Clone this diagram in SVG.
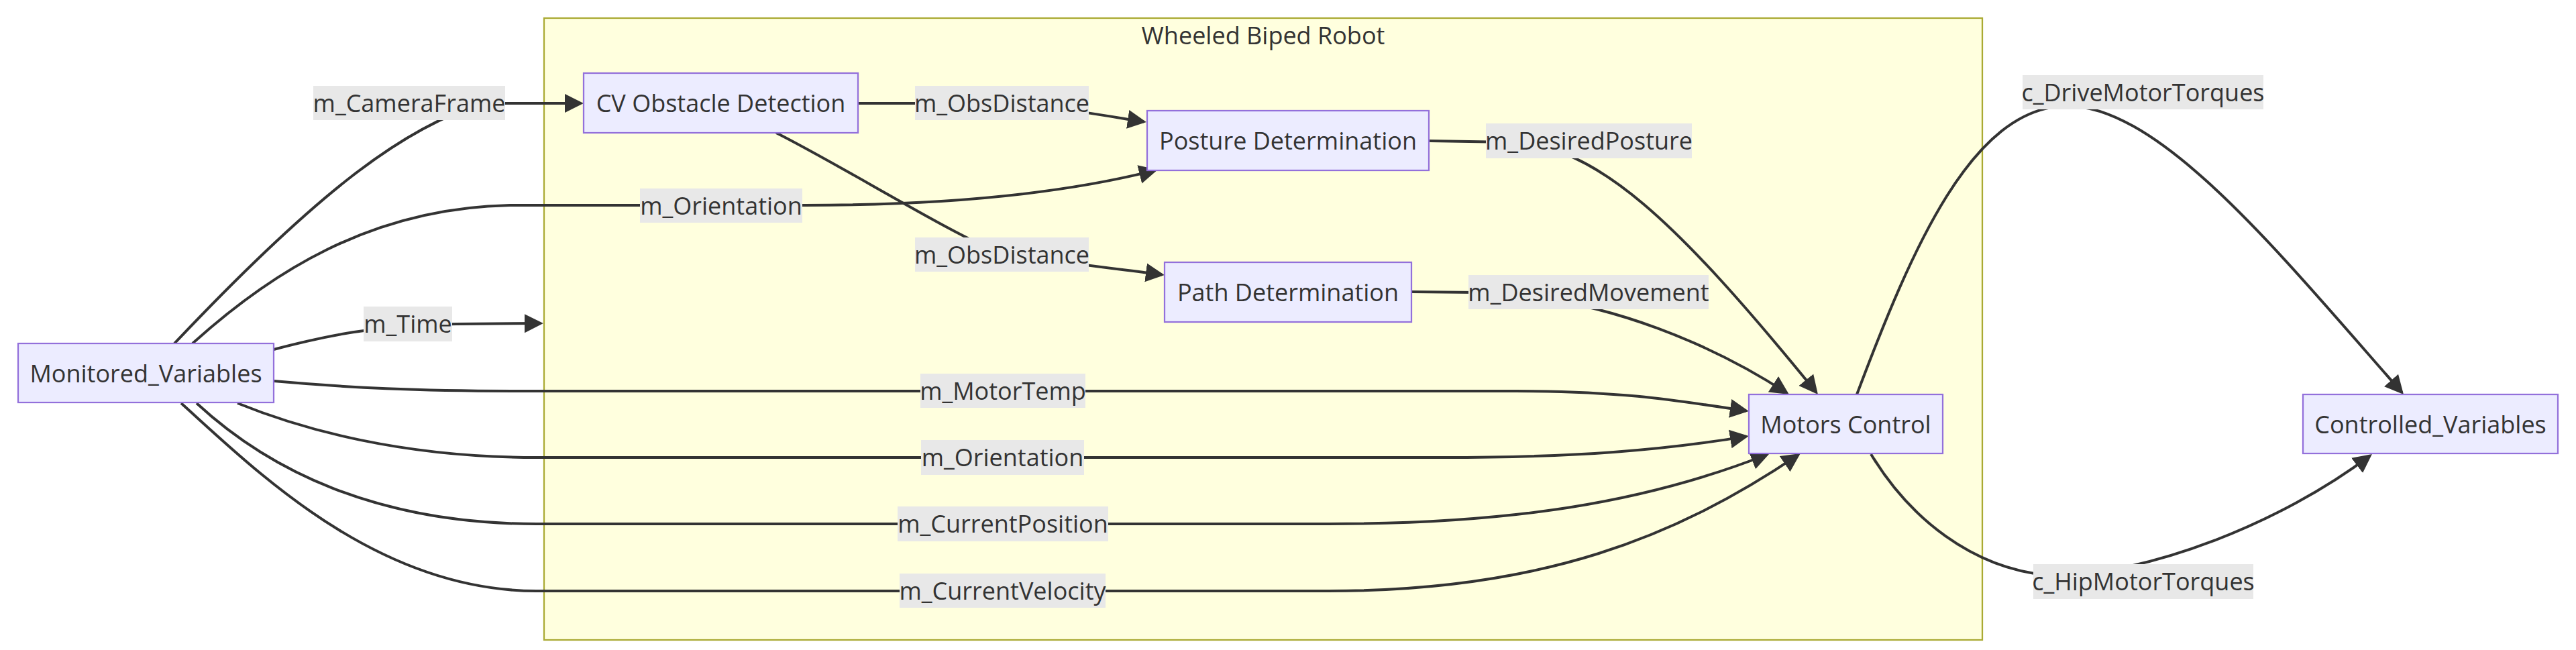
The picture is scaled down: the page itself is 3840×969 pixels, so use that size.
<svg xmlns="http://www.w3.org/2000/svg" width="3840" height="969" viewBox="0 0 3840 969">
<style>
text{font-family:"Open Sans","Noto Sans","Liberation Sans",sans-serif;font-size:36px;fill:#333333;text-anchor:middle}
.node rect{fill:#ECECFF;stroke:#9370DB;stroke-width:2.25}
.edge{fill:none;stroke:#333333;stroke-width:4;marker-end:url(#arrow)}
.lbl rect{fill:#e8e8e8}
.cluster{fill:#ffffde;stroke:#aaaa33;stroke-width:2.25}
</style>
<defs>
<marker id="arrow" viewBox="0 0 10 10" refX="8.6" refY="5" markerUnits="userSpaceOnUse" markerWidth="28" markerHeight="29" orient="auto">
<path d="M0,0 L10,5 L0,10 z" fill="#333333"/>
</marker>
</defs>
<rect width="3840" height="969" fill="#ffffff"/>
<g id="cluster-robot">
<rect class="cluster" x="811" y="27" width="2144" height="927"/>
<text x="1883" y="66">Wheeled Biped Robot</text>
</g>
<g id="connectors">
<path class="edge" d="M260,512 C470,290 600,190 720,154 L866,154"/>
<path class="edge" d="M287,512 C400,410 550,310 760,306 L1200,306 C1400,306 1580,290 1722.1,253.9"/>
<path class="edge" d="M408,521 C480,502 560,484 680,483 L806,482"/>
<path class="edge" d="M408,568 C520,578 620,583 780,583 L2260,583 C2420,583 2500,597 2603,612.5"/>
<path class="edge" d="M354,601 C450,640 600,682 800,682 L2150,682 C2350,682 2480,671 2603,650.6"/>
<path class="edge" d="M293,601 C400,700 560,781 800,781 L1980,781 C2250,781 2450,750 2634.3,677.5"/>
<path class="edge" d="M270,601 C380,700 560,881 800,881 L1980,881 C2300,881 2500,800 2680.6,678.2"/>
<path class="edge" d="M1279,154 L1400,154 C1560,154 1630,170 1705,181.5"/>
<path class="edge" d="M1157,198 C1260,250 1420,350 1493,378 C1560,388 1650,399 1732,409.5"/>
<path class="edge" d="M2130,210 L2250,212 C2380,215 2500,330 2707.5,584.9"/>
<path class="edge" d="M2104,435 L2200,436 C2400,440 2570,525 2663.6,585.9"/>
<path class="edge" d="M2768,588 C2850,370 2940,160 3080,158 C3220,156 3400,380 3580.4,585"/>
<path class="edge" d="M2789,677 C2845,770 2940,850 3060,858 C3200,858 3400,780 3532.8,679.4"/>
</g>
<g id="edge-labels">
<g class="lbl"><rect x="467" y="128" width="286" height="51"/><text x="610" y="166.5">m_CameraFrame</text></g>
<g class="lbl"><rect x="954" y="281" width="242" height="51"/><text x="1075" y="319.5">m_Orientation</text></g>
<g class="lbl"><rect x="542" y="457" width="132" height="52"/><text x="608" y="496">m_Time</text></g>
<g class="lbl"><rect x="1364" y="128" width="259" height="51"/><text x="1493.5" y="166.5">m_ObsDistance</text></g>
<g class="lbl"><rect x="1364" y="354" width="259" height="51"/><text x="1493.5" y="392.5">m_ObsDistance</text></g>
<g class="lbl"><rect x="2215" y="184" width="307" height="52"/><text x="2368.5" y="223">m_DesiredPosture</text></g>
<g class="lbl"><rect x="2189" y="410" width="358" height="51"/><text x="2368" y="448.5">m_DesiredMovement</text></g>
<g class="lbl"><rect x="1372" y="557" width="246" height="51"/><text x="1495" y="595.5">m_MotorTemp</text></g>
<g class="lbl"><rect x="1373" y="656" width="243" height="52"/><text x="1494.5" y="695">m_Orientation</text></g>
<g class="lbl"><rect x="1338" y="755" width="314" height="52"/><text x="1495" y="794">m_CurrentPosition</text></g>
<g class="lbl"><rect x="1341" y="855" width="307" height="51"/><text x="1494.5" y="893.5">m_CurrentVelocity</text></g>
<g class="lbl"><rect x="3015" y="112" width="359" height="51"/><text x="3194.5" y="150.5">c_DriveMotorTorques</text></g>
<g class="lbl"><rect x="3031" y="841" width="328" height="52"/><text x="3195" y="880">c_HipMotorTorques</text></g>
</g>
<g id="node-monitored" class="node"><rect x="27" y="512" width="381" height="88"/><text x="217.5" y="569.5">Monitored_Variables</text></g>
<g id="node-cv" class="node"><rect x="870" y="109" width="409" height="89"/><text x="1074.5" y="167">CV Obstacle Detection</text></g>
<g id="node-posture" class="node"><rect x="1710" y="165" width="420" height="89"/><text x="1920" y="223">Posture Determination</text></g>
<g id="node-path" class="node"><rect x="1736" y="391" width="368" height="89"/><text x="1920" y="449">Path Determination</text></g>
<g id="node-motors" class="node"><rect x="2607" y="588" width="289" height="88"/><text x="2751.5" y="645.5">Motors Control</text></g>
<g id="node-controlled" class="node"><rect x="3433" y="588" width="380" height="88"/><text x="3623" y="645.5">Controlled_Variables</text></g>
</svg>
